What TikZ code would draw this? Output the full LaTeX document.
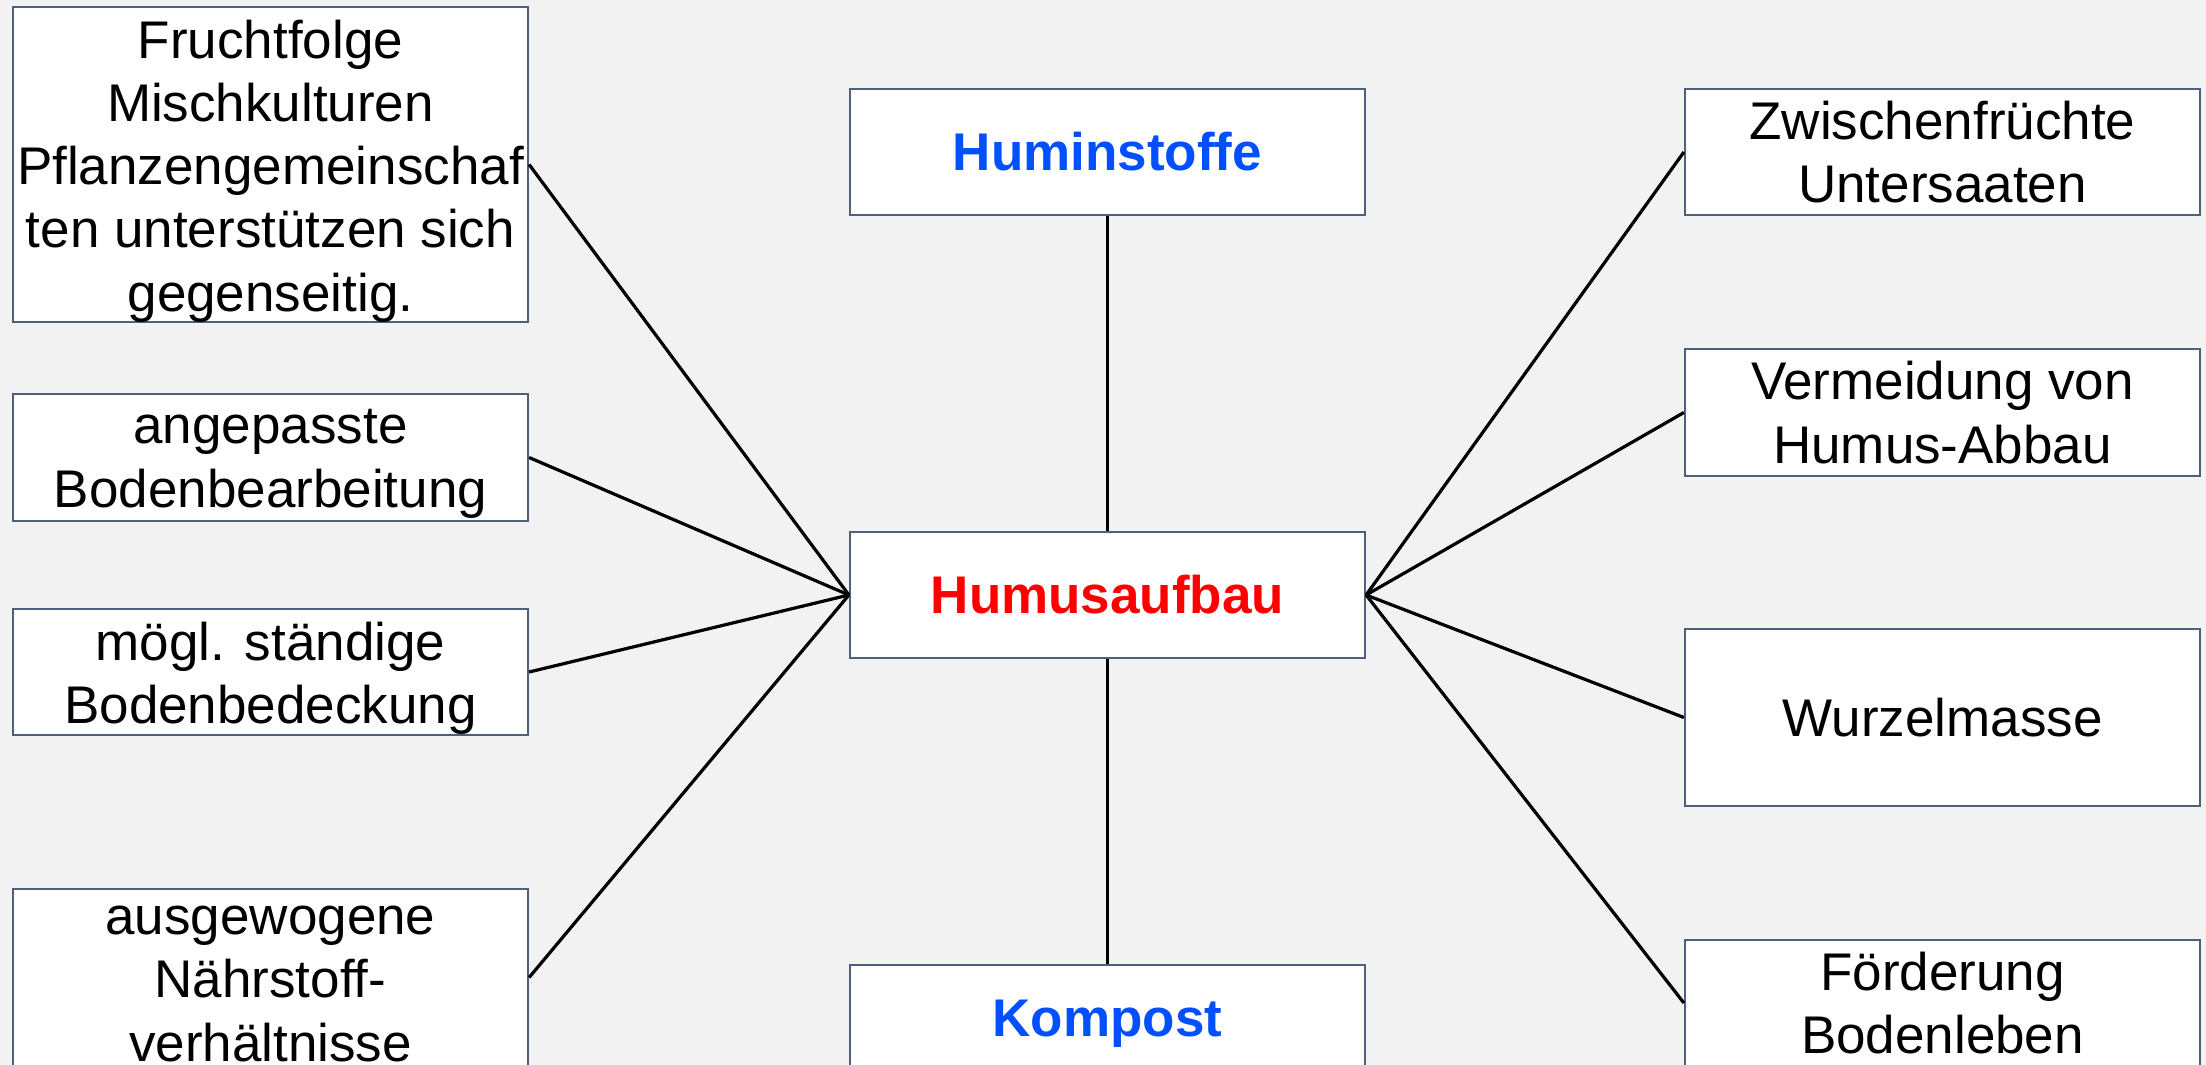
\documentclass[tikz,border=0pt]{standalone}
\usepackage{fontspec}
\setmainfont{Liberation Sans}
\definecolor{bg}{HTML}{F2F2F2}
\definecolor{boxline}{RGB}{80,96,122}
\definecolor{hubred}{RGB}{255,0,0}
\definecolor{sideblue}{RGB}{0,80,255}
\begin{document}
\begin{tikzpicture}[x=0.5pt,y=-0.5pt,
  box/.style={draw=boxline, line width=1.1pt, fill=white, inner sep=0pt,
    align=center, minimum width=257.5pt,
    font=\fontsize{26.5}{31.6}\selectfont},
  keybox/.style={box, font=\fontsize{26.5}{31.6}\selectfont\bfseries},
  % text set a little below the centre of its (empty) frame
  lowtext/.style={inner sep=0pt, align=center, yshift=-3.2pt,
    font=\fontsize{26.5}{31.6}\selectfont},
  link/.style={line width=1.6pt, black}]
\fill[bg] (0,0) rectangle (2206,1065);
\useasboundingbox (0,0) rectangle (2206,1065);

% left column: frames, then their texts
\node[box, minimum height=157.5pt] (frucht) at (270.5,164.5) {};
\node[box, minimum height=63.5pt] (boden) at (270.5,457.5) {};
\node[box, minimum height=63pt] (bedeck) at (270.5,672) {};
\node[box, minimum height=88.5pt] (naehr) at (270.5,977.5) {};
\node[lowtext] (fruchtT) at (frucht)
  {Fruchtfolge\\Mischkulturen\\Pflanzengemeinschaf\\ten unterstützen sich\\gegenseitig.};
\node[lowtext] (bodenT) at (boden) {angepasste\\Bodenbearbeitung};
\node[lowtext] (bedeckT) at (bedeck) {mögl. ständige\\Bodenbedeckung};
\node[lowtext] (naehrT) at (naehr) {ausgewogene\\Nährstoff-\\verhältnisse};

% middle column
\node[keybox, minimum height=63pt, text=sideblue] (humin) at (1107.5,152) {Huminstoffe};
\node[keybox, minimum height=63pt, text=hubred] (hub) at (1107.5,595) {Humusaufbau};
\node[keybox, minimum height=59pt, text=sideblue] (kompost) at (1107.5,1024) {Kompost};

% right column
\node[box, minimum height=63pt] (zwisch) at (1942.5,152)
  {Zwischenfrüchte\\Untersaaten};
\node[box, minimum height=63.5pt] (abbau) at (1942.5,412.5)
  {Vermeidung von\\ Humus-Abbau};
\node[box, minimum height=88.5pt] (wurzel) at (1942.5,717.5)
  {Wurzelmasse};
\node[box, minimum height=63pt] (leben) at (1942.5,1003)
  {Förderung\\Bodenleben};

% connectors
\draw[link] (hub.north) -- (humin.south);
\draw[link] (hub.south) -- (kompost.north);
\draw[link] (hub.west) -- (frucht.east);
\draw[link] (hub.west) -- (boden.east);
\draw[link] (hub.west) -- (bedeck.east);
\draw[link] (hub.west) -- (naehr.east);
\draw[link] (hub.east) -- (zwisch.west);
\draw[link] (hub.east) -- (abbau.west);
\draw[link] (hub.east) -- (wurzel.west);
\draw[link] (hub.east) -- (leben.west);
\end{tikzpicture}
\end{document}
